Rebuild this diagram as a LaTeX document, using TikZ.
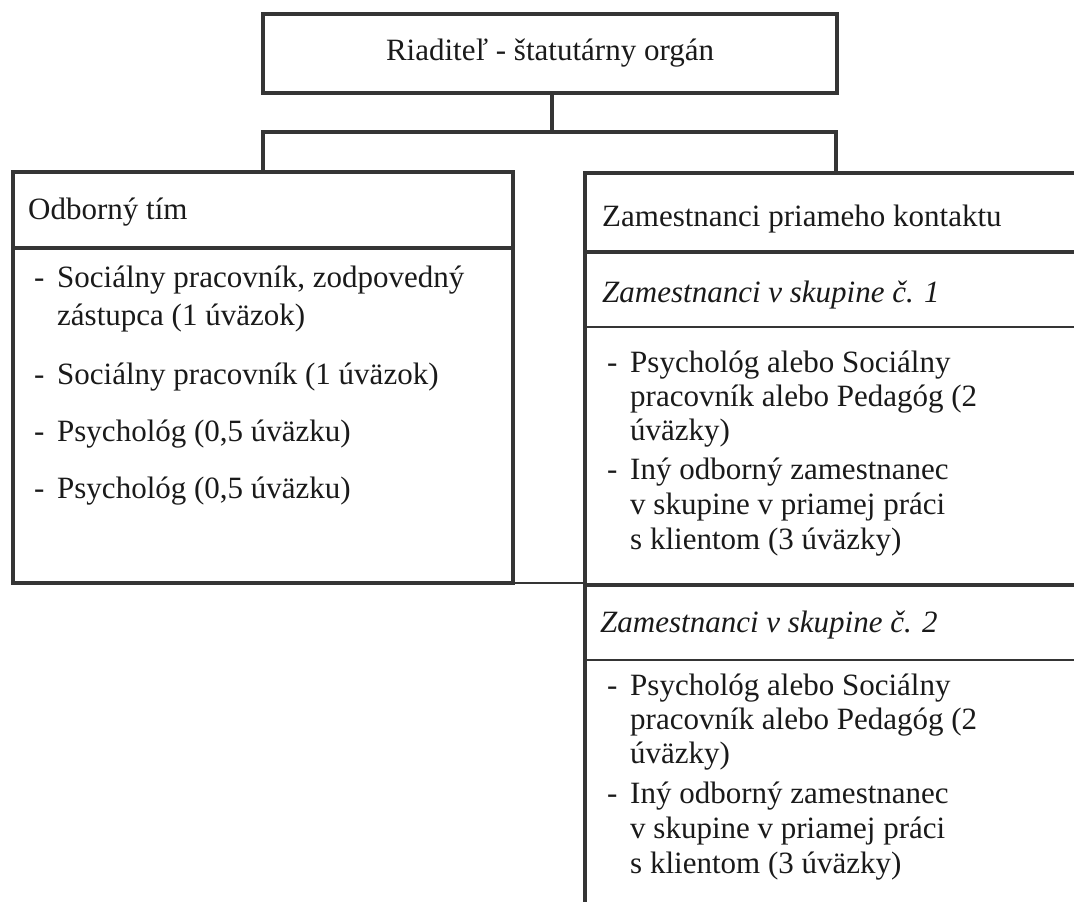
\documentclass[tikz,border=0pt]{standalone}
\usepackage{fontspec}
\setmainfont{Liberation Serif}
\definecolor{linec}{HTML}{353535}
\definecolor{textc}{HTML}{1A1A1A}
\begin{document}
\begin{tikzpicture}[x=1pt,y=-1pt,
  frame/.style={draw=linec, line width=3.6pt, inner sep=0pt, outer sep=0pt},
  txt/.style={anchor=base west, inner sep=0pt, text=textc, font=\fontsize{31}{35}\selectfont},
  itxt/.style={txt, font=\fontsize{31}{35}\selectfont\itshape},
  heavyrule/.style={draw=linec, line width=3.4pt},
  lightrule/.style={draw=linec, line width=2.2pt},
  link/.style={draw=linec, line width=3.4pt},
  thinlink/.style={draw=linec, line width=1.8pt},
]
\useasboundingbox (0,0) rectangle (1074,902);
\fill[white] (0,0) rectangle (1074,902);
\clip (0,0) rectangle (1074,902);

% boxes
\node[frame, minimum width=574pt, minimum height=79pt, text=textc,
      font=\fontsize{31}{35}\selectfont] (top) at (550,53.5) {Riaditeľ - štatutárny orgán};
\node[frame, anchor=north west, minimum width=500pt, minimum height=411pt] (left) at (13,172) {};
\node[frame, anchor=north west, minimum width=560pt, minimum height=760pt] (right) at (585,173) {};

% connectors
\coordinate (hl) at (263,132);
\coordinate (hr) at (836,132);
\draw[link] (top.south -| 552,0) -- (552,132);
\draw[link] (hl |- left.north) -- (hl) -- (hr) -- (hr |- right.north);
\draw[thinlink] (left.south east) -- (left.south east -| right.west);

% left box
\draw[heavyrule] (left.west |- 0,248) -- (left.east |- 0,248);
\node[txt] (lh) at (28,219) {Odborný tím};
\node[txt] (ld1) at (34,287) {-};
\node[txt] (lt1) at (57,287) {Sociálny pracovník, zodpovedný};
\node[txt] (lt1b) at (57,325) {zástupca (1 úväzok)};
\node[txt] (ld2) at (34,384) {-};
\node[txt] (lt2) at (57,384) {Sociálny pracovník (1 úväzok)};
\node[txt] (ld3) at (34,441) {-};
\node[txt] (lt3) at (57,441) {Psychológ (0,5 úväzku)};
\node[txt] (ld4) at (34,498) {-};
\node[txt] (lt4) at (57,498) {Psychológ (0,5 úväzku)};

% right box
\draw[heavyrule] (right.west |- 0,252) -- (1080,252);
\draw[lightrule] (right.west |- 0,327) -- (1080,327);
\draw[heavyrule] (right.west |- 0,585) -- (1080,585);
\draw[lightrule] (right.west |- 0,660) -- (1080,660);

\node[txt] (rh) at (602,226) {Zamestnanci priameho kontaktu};
\node[itxt] (g1) at (602,302) {Zamestnanci v skupine č. 1};
\node[txt] (g1d1) at (607,372) {-};
\node[txt] (g1a) at (630,372) {Psychológ alebo Sociálny};
\node[txt] (g1b) at (630,406) {pracovník alebo Pedagóg (2};
\node[txt] (g1c) at (630,440) {úväzky)};
\node[txt] (g1d2) at (607,479) {-};
\node[txt] (g1e) at (630,479) {Iný odborný zamestnanec};
\node[txt] (g1f) at (630,514) {v skupine v priamej práci};
\node[txt] (g1g) at (630,549) {s klientom (3 úväzky)};

\node[itxt] (g2) at (600,632) {Zamestnanci v skupine č. 2};
\node[txt] (g2d1) at (607,695) {-};
\node[txt] (g2a) at (630,695) {Psychológ alebo Sociálny};
\node[txt] (g2b) at (630,729) {pracovník alebo Pedagóg (2};
\node[txt] (g2c) at (630,763) {úväzky)};
\node[txt] (g2d2) at (607,803) {-};
\node[txt] (g2e) at (630,803) {Iný odborný zamestnanec};
\node[txt] (g2f) at (630,838) {v skupine v priamej práci};
\node[txt] (g2g) at (630,873) {s klientom (3 úväzky)};
\end{tikzpicture}
\end{document}
